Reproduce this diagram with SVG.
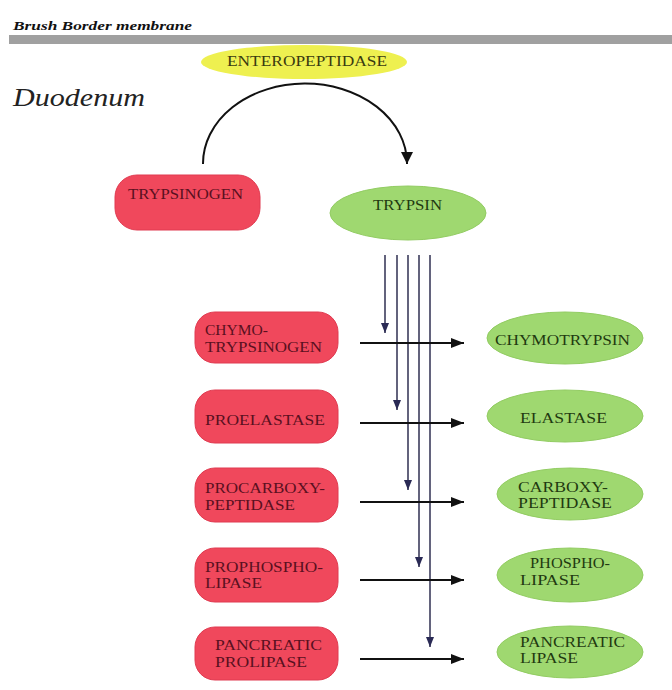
<svg xmlns="http://www.w3.org/2000/svg" width="672" height="690" viewBox="0 0 672 690">
<defs>
<style>
.t{font-family:"Liberation Serif","Times New Roman",serif;font-size:14px;}
.pro rect{fill:#f0485c;stroke:#e03a50;stroke-width:1;}
.pro text{fill:#5a1020;}
.act ellipse{fill:#9fd870;stroke:#92cc62;stroke-width:1;}
.act text{fill:#1f3a10;}
.vl{stroke:#3c3c5c;stroke-width:1.6;fill:none;}
.hl{stroke:#111;stroke-width:2;fill:none;}
</style>
<marker id="av" markerUnits="userSpaceOnUse" markerWidth="10" markerHeight="12" refX="10" refY="4" orient="auto">
<path d="M0,0 L10,4 L0,8 Z" fill="#2a2a55"/>
</marker>
<marker id="ah" markerUnits="userSpaceOnUse" markerWidth="14" markerHeight="12" refX="13" refY="5" orient="auto">
<path d="M0,0 L13,5 L0,10 Z" fill="#111"/>
</marker>
<marker id="aa" markerUnits="userSpaceOnUse" markerWidth="14" markerHeight="14" refX="12" refY="6" orient="auto">
<path d="M0,0 L12,6 L0,12 Z" fill="#111"/>
</marker>
</defs>
<rect width="672" height="690" fill="#ffffff"/>
<text x="13" y="30" font-family="Liberation Serif, serif" font-size="13" font-weight="bold" font-style="italic" fill="#111" textLength="179" lengthAdjust="spacingAndGlyphs">Brush Border membrane</text>
<rect x="9" y="35" width="663" height="9" fill="#a0a0a0"/>
<text x="13" y="106" font-family="Liberation Serif, serif" font-size="25" font-style="italic" fill="#222" textLength="132" lengthAdjust="spacingAndGlyphs">Duodenum</text>

<g id="connectors">
<path d="M203,164 A102,80 0 0 1 407,163 L407,164" stroke="#111" stroke-width="2" fill="none" marker-end="url(#aa)"/>
<line class="vl" x1="385" y1="255" x2="385" y2="333" marker-end="url(#av)"/>
<line class="vl" x1="397" y1="255" x2="397" y2="410" marker-end="url(#av)"/>
<line class="vl" x1="408" y1="255" x2="408" y2="490" marker-end="url(#av)"/>
<line class="vl" x1="419" y1="255" x2="419" y2="567" marker-end="url(#av)"/>
<line class="vl" x1="430" y1="255" x2="430" y2="647" marker-end="url(#av)"/>
<line class="hl" x1="360" y1="343" x2="464" y2="343" marker-end="url(#ah)"/>
<line class="hl" x1="360" y1="423" x2="464" y2="423" marker-end="url(#ah)"/>
<line class="hl" x1="360" y1="502" x2="464" y2="502" marker-end="url(#ah)"/>
<line class="hl" x1="360" y1="580" x2="464" y2="580" marker-end="url(#ah)"/>
<line class="hl" x1="360" y1="659" x2="464" y2="659" marker-end="url(#ah)"/>
</g>

<g id="enteropeptidase">
<ellipse cx="304" cy="62" rx="103" ry="17" fill="#eef050"/>
<text class="t" x="227" y="66" fill="#3a3a10" textLength="160" lengthAdjust="spacingAndGlyphs">ENTEROPEPTIDASE</text>
</g>

<g id="trypsinogen" class="pro">
<rect x="115" y="175" width="145" height="55" rx="22"/>
<text class="t" x="128" y="199" textLength="115" lengthAdjust="spacingAndGlyphs">TRYPSINOGEN</text>
</g>

<g id="trypsin" class="act">
<ellipse cx="408" cy="213" rx="78" ry="27"/>
<text class="t" x="373" y="210" textLength="69" lengthAdjust="spacingAndGlyphs">TRYPSIN</text>
</g>

<g id="chymotrypsinogen" class="pro">
<rect x="195" y="312" width="143" height="51" rx="20"/>
<text class="t" x="205" y="335" textLength="63" lengthAdjust="spacingAndGlyphs">CHYMO-</text>
<text class="t" x="205" y="352" textLength="117" lengthAdjust="spacingAndGlyphs">TRYPSINOGEN</text>
</g>
<g id="proelastase" class="pro">
<rect x="195" y="390" width="143" height="53" rx="20"/>
<text class="t" x="205" y="425" textLength="120" lengthAdjust="spacingAndGlyphs">PROELASTASE</text>
</g>
<g id="procarboxypeptidase" class="pro">
<rect x="195" y="468" width="143" height="54" rx="20"/>
<text class="t" x="205" y="493" textLength="120" lengthAdjust="spacingAndGlyphs">PROCARBOXY-</text>
<text class="t" x="205" y="510" textLength="90" lengthAdjust="spacingAndGlyphs">PEPTIDASE</text>
</g>
<g id="prophospholipase" class="pro">
<rect x="195" y="548" width="143" height="54" rx="20"/>
<text class="t" x="205" y="572" textLength="118" lengthAdjust="spacingAndGlyphs">PROPHOSPHO-</text>
<text class="t" x="205" y="588" textLength="57" lengthAdjust="spacingAndGlyphs">LIPASE</text>
</g>
<g id="pancreatic-prolipase" class="pro">
<rect x="195" y="627" width="143" height="53" rx="20"/>
<text class="t" x="215" y="650" textLength="107" lengthAdjust="spacingAndGlyphs">PANCREATIC</text>
<text class="t" x="215" y="667" textLength="92" lengthAdjust="spacingAndGlyphs">PROLIPASE</text>
</g>

<g id="chymotrypsin" class="act">
<ellipse cx="565" cy="338" rx="78" ry="26"/>
<text class="t" x="495" y="345" textLength="135" lengthAdjust="spacingAndGlyphs">CHYMOTRYPSIN</text>
</g>
<g id="elastase" class="act">
<ellipse cx="565" cy="416" rx="78" ry="26"/>
<text class="t" x="520" y="423" textLength="87" lengthAdjust="spacingAndGlyphs">ELASTASE</text>
</g>
<g id="carboxypeptidase" class="act">
<ellipse cx="570" cy="494" rx="73" ry="26"/>
<text class="t" x="518" y="492" textLength="90" lengthAdjust="spacingAndGlyphs">CARBOXY-</text>
<text class="t" x="518" y="508" textLength="94" lengthAdjust="spacingAndGlyphs">PEPTIDASE</text>
</g>
<g id="phospholipase" class="act">
<ellipse cx="570" cy="575" rx="73" ry="27"/>
<text class="t" x="530" y="568" textLength="80" lengthAdjust="spacingAndGlyphs">PHOSPHO-</text>
<text class="t" x="520" y="585" textLength="60" lengthAdjust="spacingAndGlyphs">LIPASE</text>
</g>
<g id="pancreatic-lipase" class="act">
<ellipse cx="570" cy="652" rx="73" ry="26"/>
<text class="t" x="520" y="647" textLength="105" lengthAdjust="spacingAndGlyphs">PANCREATIC</text>
<text class="t" x="520" y="663" textLength="58" lengthAdjust="spacingAndGlyphs">LIPASE</text>
</g>
</svg>
